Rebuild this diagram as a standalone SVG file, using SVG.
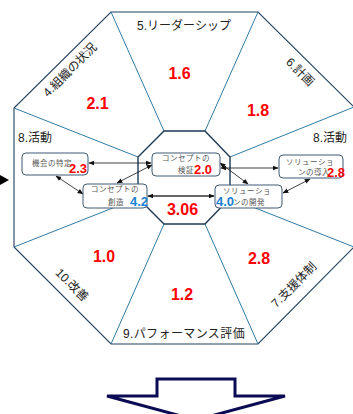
<svg xmlns="http://www.w3.org/2000/svg" width="353" height="414" viewBox="0 0 353 414">
<defs>
<marker id="ah" viewBox="0 0 10 10" refX="9" refY="5" markerWidth="6" markerHeight="6" orient="auto-start-reverse" markerUnits="userSpaceOnUse">
<path d="M0,1 L10,5 L0,9 z" fill="#111"/>
</marker>
<style>
.outer{fill:none;stroke:#23405e;stroke-width:1.1}
.spoke{stroke:#2f7ba3;stroke-width:1;fill:none}
.inner{fill:none;stroke:#1f3a55;stroke-width:1.4}
.lbl{font-family:"Liberation Sans","Noto Sans CJK JP",sans-serif;font-size:12px;fill:#222}
.num{font-family:"Liberation Sans",sans-serif;font-weight:bold;font-size:16px;fill:#ff0000;text-anchor:middle}
.bn{font-family:"Liberation Sans",sans-serif;font-weight:bold;font-size:13px;fill:#ff0000}
.bb{font-family:"Liberation Sans",sans-serif;font-weight:bold;font-size:13px;fill:#1a7fd0}
.box{fill:#fff;stroke:#3d5a73;stroke-width:1}
.bt{font-family:"Liberation Sans","Noto Sans CJK JP",sans-serif;font-size:7.5px;fill:#555;letter-spacing:0.5px}
.ar{stroke:#111;stroke-width:0.8;fill:none;marker-start:url(#ah);marker-end:url(#ah)}
</style>
</defs>
<rect width="353" height="414" fill="#fff"/>
<g id="frame">
<polygon class="outer" points="111,12 258,12 354,107 354,247 258,344 111,344 14,247 14,108"/>
<g class="spoke">
<line x1="111" y1="12" x2="164" y2="131"/>
<line x1="258" y1="12" x2="205" y2="131"/>
<line x1="354" y1="107" x2="230" y2="157"/>
<line x1="14" y1="108" x2="138" y2="157"/>
<line x1="14" y1="247" x2="138" y2="198"/>
<line x1="354" y1="247" x2="230" y2="198"/>
<line x1="111" y1="344" x2="164" y2="224"/>
<line x1="258" y1="344" x2="205" y2="224"/>
</g>
<polygon class="inner" points="164,131 205,131 230,157 230,198 205,224 164,224 138,198 138,157"/>
<polygon points="0,175 9,180 0,185" fill="#000"/>
</g>
<g id="sector-labels">
<text class="lbl" x="184" y="30" text-anchor="middle">5.リーダーシップ</text>
<text class="lbl" text-anchor="middle" transform="translate(70,70) rotate(-45)" dy="4" font-size="12.5">4.組織の状況</text>
<text class="lbl" text-anchor="middle" transform="translate(300,72) rotate(45)" dy="4">6.計画</text>
<text class="lbl" text-anchor="middle" transform="translate(72,285) rotate(45)" dy="4">10.改善</text>
<text class="lbl" text-anchor="middle" transform="translate(294,285) rotate(-45)" dy="4">7.支援体制</text>
<text class="lbl" x="184" y="338" text-anchor="middle" letter-spacing="0.4">9.パフォーマンス評価</text>
<text class="lbl" x="18" y="142">8.活動</text>
<text class="lbl" x="347" y="142" text-anchor="end">8.活動</text>
</g>
<g id="scores">
<text class="num" x="179.5" y="79">1.6</text>
<text class="num" x="97.5" y="109">2.1</text>
<text class="num" x="258" y="116">1.8</text>
<text class="num" x="104" y="262">1.0</text>
<text class="num" x="259" y="264">2.8</text>
<text class="num" x="182" y="300">1.2</text>
<text class="num" x="182.5" y="215" font-size="17">3.06</text>
</g>
<g id="connectors">
<line class="ar" x1="89" y1="163" x2="151" y2="163"/>
<line class="ar" x1="221" y1="168" x2="278" y2="168"/>
<line class="ar" x1="56" y1="176" x2="83" y2="194"/>
<line class="ar" x1="117" y1="183" x2="152" y2="165"/>
<line class="ar" x1="148" y1="196" x2="214" y2="196" style="stroke:#333;stroke-width:1.3"/>
<line class="ar" x1="220" y1="163" x2="248" y2="184"/>
<line class="ar" x1="283" y1="193" x2="310" y2="179"/>
</g>
<g id="node-opportunity">
<rect class="box" x="22" y="153" width="66" height="22" rx="4"/>
<text class="bt" x="52" y="166" text-anchor="middle">機会の特定</text>
<text class="bn" x="87" y="173" text-anchor="end">2.3</text>
</g>
<g id="node-verify">
<rect class="box" x="152" y="153" width="68" height="23" rx="4"/>
<text class="bt" x="186" y="161" text-anchor="middle">コンセプトの</text>
<text class="bt" x="178" y="173">検証</text>
<text class="bn" x="194" y="174">2.0</text>
</g>
<g id="node-introduce">
<rect class="box" x="279" y="155" width="64" height="23" rx="4"/>
<text class="bt" x="310" y="165" text-anchor="middle">ソリューショ</text>
<text class="bt" x="298" y="175">ンの導入</text>
<text class="bn" x="327" y="177">2.8</text>
</g>
<g id="node-create">
<rect class="box" x="83" y="184" width="64" height="24" rx="4"/>
<text class="bt" x="115" y="192" text-anchor="middle">コンセプトの</text>
<text class="bt" x="108" y="205">創造</text>
<text class="bb" x="130" y="206">4.2</text>
</g>
<g id="node-develop">
<rect class="box" x="215" y="185" width="67" height="23" rx="4"/>
<text class="bt" x="247" y="194" text-anchor="middle">ソリューショ</text>
<text class="bt" x="233" y="205">ンの開発</text>
<text class="bb" x="216" y="206">4.0</text>
</g>
<g id="down-arrow">
<polygon points="157,379 235,379 235,396 285,396 196,420 107,396 157,396" fill="#fff" stroke="#0b0b55" stroke-width="3" stroke-linejoin="miter"/>
</g>
</svg>
